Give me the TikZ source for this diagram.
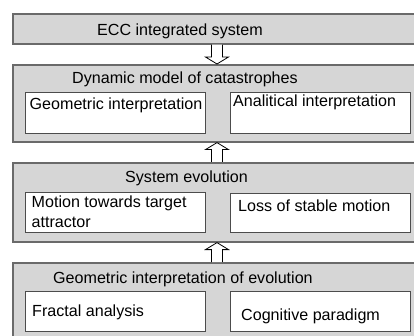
\documentclass[tikz,border=0pt]{standalone}
\usepackage{fontspec}
\setmainfont{Liberation Sans}
\usepackage{xcolor}
\usetikzlibrary{positioning,calc}
\definecolor{panelG}{HTML}{D6D6D6}
\definecolor{edgeG}{HTML}{6A6A6A}
\begin{document}
\begin{tikzpicture}[x=1pt, y=1pt,
  every node/.style={font=\fontsize{16.1}{20}\selectfont},
  panel/.style={rectangle, draw=edgeG, line width=1.6pt, fill=panelG, anchor=north west,
              minimum width=440, inner sep=0pt},
  cell/.style={rectangle, draw=black!70, line width=1.1pt, fill=white, anchor=north west,
              minimum width=180, minimum height=40, inner sep=0pt},
  lbl/.style={anchor=base west, inner sep=0pt, align=left},
  blockarr/.style={draw=black, fill=white, line width=0.8pt,
    to path={let \p1=(\tikztostart), \p2=(\tikztotarget), \n1={7*sign(\y1-\y2)} in
      (\x2-5.5pt,\y1) -- (\x2-5.5pt,\y2+\n1) -- (\x2-11.5pt,\y2+\n1) -- (\x2,\y2)
      -- (\x2+11.5pt,\y2+\n1) -- (\x2+5.5pt,\y2+\n1) -- (\x2+5.5pt,\y1)}}
]
  \path[use as bounding box, fill=white] (0,0) rectangle (414,-336);
  \clip (0,0) rectangle (414,-336);
  % ---- outer panels ----
  \node[panel, minimum height=30] (ecc) at (12,-13) {};
  \node[panel, minimum height=77] (dyn) at (12,-64) {};
  \node[panel, minimum height=79] (evo) at (12,-162) {};
  \node[panel, minimum height=90] (geo) at (12,-262) {};
  \node[lbl] (ecct) at (97,-36) {ECC integrated system};
  \node[lbl] (dynt) at (72,-84) {Dynamic model of catastrophes};
  \node[lbl] (evot) at (125,-183) {System evolution};
  \node[lbl] (geot) at (53,-283) {Geometric interpretation of evolution};
  % ---- inner cells ----
  \node[cell, minimum height=41] (geoint) at (25,-92) {};
  \node[cell, minimum height=41] (anaint) at (230,-92) {};
  \node[cell] (motion) at (25,-192) {};
  \node[cell, minimum height=39] (loss) at (230,-193) {};
  \node[cell] (fract) at (25,-291) {};
  \node[cell] (cogn) at (230,-291) {};
  \node[lbl] at (29.5,-110) (geointt) {Geometric interpretation};
  \node[lbl] at (233,-107) (anaintt) {Analitical interpretation};
  \node[anchor=north west, inner sep=0pt, align=left] at (31.5,-195.5) (motiont) {Motion towards target\\attractor};
  \node[lbl] at (238,-211.5) (losst) {Loss of stable motion};
  \node[lbl] at (32,-316.5) (fractt) {Fractal analysis};
  \node[lbl] at (241,-320) (cognt) {Cognitive paradigm};
  % ---- block arrows ----
  \coordinate (ax) at (217,0);
  \draw[blockarr] (ecc.south -| ax) to (dyn.north -| ax);
  \draw[blockarr] (evo.north -| ax) to (dyn.south -| ax);
  \draw[blockarr] (geo.north -| ax) to (evo.south -| ax);
\end{tikzpicture}
\end{document}
